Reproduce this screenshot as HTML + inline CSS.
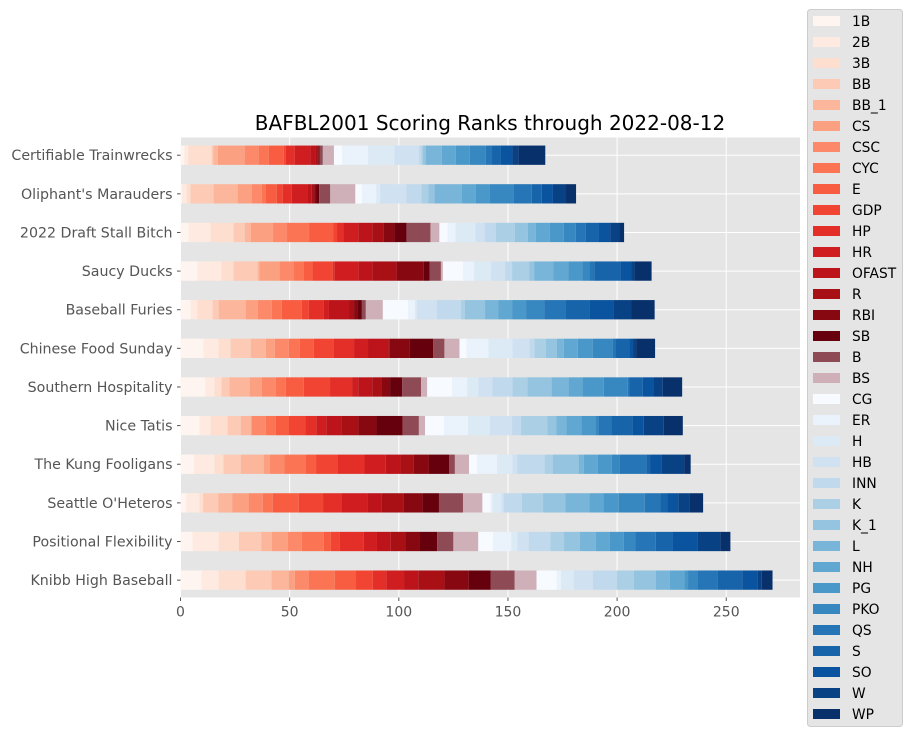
<!DOCTYPE html>
<html><head><meta charset="utf-8">
<style>
body{margin:0;background:#fff;}
svg text{font-family:"DejaVu Sans","Liberation Sans",sans-serif;}
</style></head>
<body>
<svg id="chart" width="912" height="736" viewBox="0 0 912 736" xmlns="http://www.w3.org/2000/svg">
<rect x="0" y="0" width="912" height="736" fill="#fff"/>
<text x="490" y="130" font-size="20" text-anchor="middle" fill="#000">BAFBL2001 Scoring Ranks through 2022-08-12</text>
<g id="plot"></g>
<g id="legend"></g>
</svg>
<script>
const teams = ["Certifiable Trainwrecks","Oliphant's Marauders","2022 Draft Stall Bitch","Saucy Ducks","Baseball Furies","Chinese Food Sunday","Southern Hospitality","Nice Tatis","The Kung Fooligans","Seattle O'Heteros","Positional Flexibility","Knibb High Baseball"];
const categories = ["1B","2B","3B","BB","BB_1","CS","CSC","CYC","E","GDP","HP","HR","OFAST","R","RBI","SB","B","BS","CG","ER","H","HB","INN","K","K_1","L","NH","PG","PKO","QS","S","SO","W","WP"];
const valsTrainwrecks = [1.8,1.8,10.7,0.8,2.0,12.3,6.4,4.6,6.9,0.9,4.1,7.2,2.3,0.9,0.6,0.5,1.4,5.1,3.7,12.0,12.0,11.2,1.1,0.8,1.2,7.4,6.4,6.4,7.4,2.8,4.1,5.1,2.8,12.4];
const valsOliphant = [0.8,2.0,1.8,10.6,11.0,6.4,4.6,1.8,5.1,2.8,4.1,7.4,1.7,1.1,1.1,1.2,5.1,11.5,3.2,6.4,1.8,12.0,6.9,3.2,2.8,12.4,6.4,6.4,11.0,8.3,4.6,5.1,6.0,4.6];
const valsDraftStall = [3.7,10.1,10.6,5.1,2.8,10.1,6.4,10.1,11.0,1.8,2.8,6.9,6.4,5.1,5.1,5.5,11.0,4.1,3.7,3.7,9.2,4.1,5.1,8.7,6.0,3.7,6.4,6.4,5.5,4.6,6.0,5.1,4.1,2.3];
const valsSaucy = [7.8,11.0,5.5,11.0,0.9,9.2,6.4,4.6,4.1,9.2,0.9,11.0,6.4,11.0,12.4,2.8,5.1,0.9,9.2,5.1,7.8,6.4,3.2,7.8,2.3,8.7,6.9,6.4,3.2,2.3,12.0,5.1,1.4,7.8];
const valsFuries = [4.6,3.2,6.9,2.8,12.4,5.5,6.4,4.6,9.2,3.2,6.9,2.3,9.2,2.3,1.8,1.8,1.8,7.8,11.5,3.2,0.9,9.2,11.0,1.8,9.2,6.0,6.4,6.4,8.3,9.7,11.0,11.0,8.3,10.6];
const valsChinese = [10.6,6.9,5.5,9.2,6.9,4.1,6.4,5.1,6.4,9.2,9.2,6.4,9.2,0.5,9.2,11.0,5.1,6.9,3.2,10.1,11.0,7.8,2.3,5.1,5.1,3.2,6.4,6.9,9.2,1.4,6.0,1.8,1.4,8.7];
const valsSouthern = [11.5,4.1,3.2,3.7,9.2,5.5,6.4,4.6,8.3,12.0,10.1,2.8,6.4,4.1,4.1,5.5,8.7,2.8,11.5,6.9,5.1,6.4,9.2,6.9,11.0,7.8,6.4,9.7,11.0,0.6,6.3,5.1,4.0,8.9];
const valsTatis = [8.7,5.1,7.8,6.0,4.6,0.5,6.4,4.6,6.0,7.4,5.1,4.6,6.9,7.8,8.3,12.0,7.4,2.8,8.7,11.0,10.1,10.1,4.1,12.0,4.1,4.6,6.9,6.4,1.4,6.0,9.7,5.1,9.2,8.7];
const valsKung = [6.2,9.5,4.0,7.9,10.5,2.9,6.5,10.0,4.6,9.7,12.5,9.7,6.8,6.0,7.0,9.2,2.7,6.5,3.7,9.2,7.0,2.2,12.5,3.7,11.9,2.4,6.3,6.5,3.7,12.1,1.7,5.1,10.5,3.0];
const valsSeattle = [2.7,6.0,1.7,7.0,6.3,7.5,6.5,4.6,11.9,11.1,8.3,12.1,6.3,10.2,8.7,7.5,11.0,8.9,3.7,1.0,4.1,1.0,8.3,9.7,10.2,11.0,6.5,7.0,11.9,7.0,3.2,5.1,5.1,6.3];
const valsPositional = [5.5,12.1,9.2,10.2,4.9,7.2,6.5,10.0,3.3,4.0,11.1,6.0,6.3,7.0,6.0,8.3,7.4,11.4,6.9,8.3,2.8,5.1,10.0,6.2,7.2,7.4,6.3,6.5,5.3,9.3,7.9,11.1,10.6,4.6];
const valsKnibb = [9.7,7.9,12.3,11.8,7.9,2.8,6.3,12.0,9.7,7.7,6.2,8.1,6.5,12.0,11.1,10.0,11.1,10.0,9.3,1.9,5.8,8.8,10.9,7.9,10.0,6.5,6.7,1.6,4.2,9.5,11.1,6.9,2.1,4.9];
const xTicks = [0,50,100,150,200,250];

const series = [valsTrainwrecks,valsOliphant,valsDraftStall,valsSaucy,valsFuries,valsChinese,valsSouthern,valsTatis,valsKung,valsSeattle,valsPositional,valsKnibb];
const NS = "http://www.w3.org/2000/svg";
const L = 180.5, R = 800, T = 137.5, B = 597.5;
const pxPerUnit = 2.183;
function xScale(v){ return L + v * pxPerUnit; }
const rowStep = 38.63;
function yCenter(i){ return 155.2 + i * rowStep; }
const barH = 19.3;

const redsStops = ["#fff5f0","#fee0d2","#fcbba1","#fc9272","#fb6a4a","#ef3b2c","#cb181d","#a50f15","#67000d"];
const bluesStops = ["#f7fbff","#deebf7","#c6dbef","#9ecae1","#6baed6","#4292c6","#2171b5","#08519c","#08306b"];
function hex2rgb(h){ return [parseInt(h.slice(1,3),16),parseInt(h.slice(3,5),16),parseInt(h.slice(5,7),16)]; }
function cmap(stops,t){
  const p = t*(stops.length-1); const i = Math.min(Math.floor(p), stops.length-2); const f = p - i;
  const a = hex2rgb(stops[i]), b = hex2rgb(stops[i+1]);
  return "rgb(" + a.map((c,k)=>Math.round(c+(b[k]-c)*f)).join(",") + ")";
}
function colorFor(k){
  if (k < 16) return cmap(redsStops, k/15);
  if (k === 16) return "#8e4a55";
  if (k === 17) return "#cfb0b8";
  return cmap(bluesStops, (k-18)/15);
}
function mk(tag, attrs, parent){
  const e = document.createElementNS(NS, tag);
  for (const a in attrs) e.setAttribute(a, attrs[a]);
  parent.appendChild(e);
  return e;
}
const plot = document.getElementById("plot");
const bg = mk("rect", {x:L, y:T, width:R-L, height:B-T, fill:"#e5e5e5"}, plot);


xTicks.forEach(v => {
  const g = mk("line", {x1:xScale(v), x2:xScale(v), y1:T, y2:B, stroke:"#fff", "stroke-width":1}, plot);
  
  
});
teams.forEach((t,i) => {
  const g = mk("line", {x1:L, x2:R, y1:yCenter(i), y2:yCenter(i), stroke:"#fff", "stroke-width":1}, plot);
  
  
});
series.forEach((vals, i) => {
  let acc = 0;
  vals.forEach((v, k) => {
    const r = mk("rect", {x:xScale(acc), y:yCenter(i)-barH/2, width:Math.max(0, xScale(acc+v)-xScale(acc)), height:barH, fill:colorFor(k)}, plot);
    
    
    acc += v;
  });
});
teams.forEach((t,i) => {
  const tk = mk("line", {x1:L-3.5, x2:L, y1:yCenter(i), y2:yCenter(i), stroke:"#555", "stroke-width":1}, plot);
  
  
  const tx = mk("text", {x:L-8, y:yCenter(i)+5, "font-size":14.2, "text-anchor":"end", fill:"#555"}, plot);
  tx.textContent = t;
  
  
});
xTicks.forEach(v => {
  const tk = mk("line", {x1:xScale(v), x2:xScale(v), y1:B, y2:B+3.5, stroke:"#555", "stroke-width":1}, plot);
  
  
  const tx = mk("text", {x:xScale(v), y:B+19, "font-size":14, "text-anchor":"middle", fill:"#555"}, plot);
  tx.textContent = String(v);
  
  
});
const leg = document.getElementById("legend");
const lb = mk("rect", {x:807.5, y:9.5, width:95, height:717, rx:3, fill:"#e5e5e5", stroke:"#cccccc", "stroke-width":1}, leg);


categories.forEach((c,k) => {
  const y = 21 + k * 21.0;
  const sw = mk("rect", {x:813, y:y-5, width:27, height:10, fill:colorFor(k)}, leg);
  
  
  const tx = mk("text", {x:852, y:y+5, "font-size":13.8, fill:"#000"}, leg);
  tx.textContent = c;
  
  
});
</script>
</body></html>
